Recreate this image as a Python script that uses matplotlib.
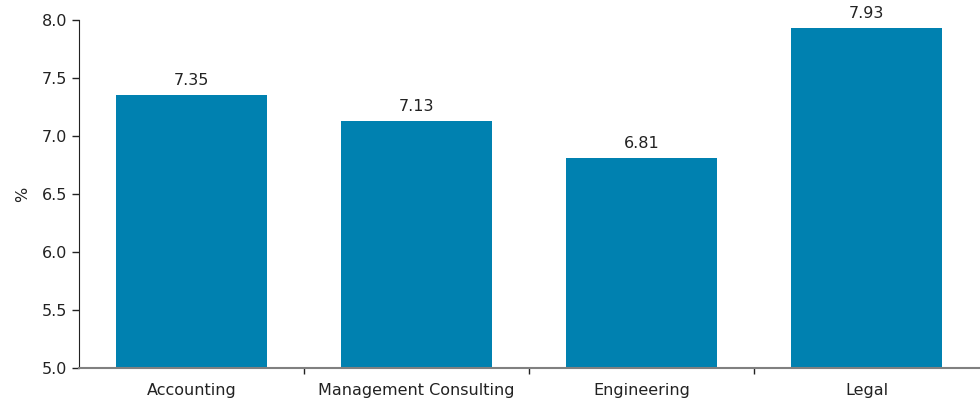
import matplotlib
matplotlib.use("Agg")
import matplotlib.pyplot as plt
import numpy as np

plt.rcParams['font.family'] = ['DejaVu Sans']

# sector averages
sectors = ["Accounting", "Management Consulting", "Engineering", "Legal"]
values = [7.35, 7.13, 6.81, 7.93]

bar_color = "#0081B0"

fig = plt.figure(figsize=(9.8, 4.0), dpi=100)
ax = fig.add_axes([79 / 980, 32 / 400, 900 / 980, 348 / 400])

x = np.arange(len(sectors))
bars = ax.bar(x, values, width=0.67, color=bar_color, bottom=0, zorder=2)

# value labels on top of bars
for xi, v in zip(x, values):
    ax.text(xi, v + 0.06, f"{v:.2f}", ha="center", va="bottom", fontsize=11.5, color="#222222")

ax.set_ylim(5.0, 8.0)
ax.set_xlim(-0.5, len(sectors) - 0.5)
ticks = np.arange(5.0, 8.01, 0.5)
ax.set_yticks(ticks)
ax.set_yticklabels([f"{t:.1f}" for t in ticks], fontsize=11.5, color="#222222")
ax.set_ylabel("%", fontsize=11.5, color="#222222", labelpad=8)

# category labels centred, separator ticks between categories
ax.set_xticks(x)
ax.set_xticklabels(sectors, fontsize=11.5, color="#222222")
ax.tick_params(axis="x", which="major", length=0, pad=11)
ax.set_xticks(np.arange(0.5, len(sectors) - 1, 1.0), minor=True)
ax.tick_params(axis="x", which="minor", length=4, width=1, color="#222222", direction="out")
ax.tick_params(axis="y", length=5, width=1, color="#222222", direction="out")

for side in ["top", "right"]:
    ax.spines[side].set_visible(False)
ax.spines["left"].set_color("#222222")
ax.spines["bottom"].set_color("#808080")
ax.spines["bottom"].set_linewidth(1.5)
ax.spines["bottom"].set_zorder(3)

fig.savefig("out.png", dpi=100)
